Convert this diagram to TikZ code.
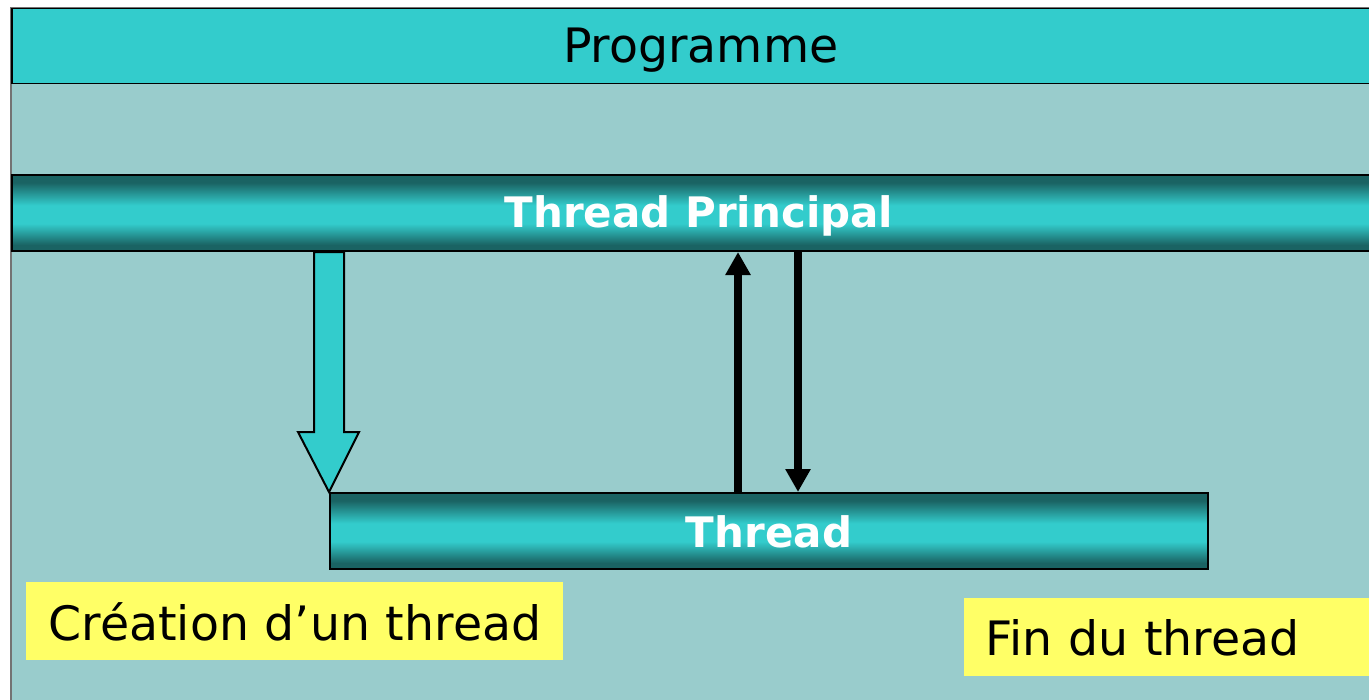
\documentclass[tikz,border=0pt]{standalone}
\usepackage{fontspec}
\setmainfont{DejaVu Sans}
\usetikzlibrary{arrows.meta,calc}
\definecolor{teal1}{HTML}{33CCCC}
\definecolor{body}{HTML}{99CCCC}
\definecolor{dk}{HTML}{1A6363}
\definecolor{ylw}{HTML}{FFFF66}
\pgfdeclareverticalshading{barshade}{100bp}{color(0bp)=(dk); color(25bp)=(dk); color(29bp)=(dk); color(43bp)=(teal1); color(55bp)=(teal1); color(70bp)=(dk); color(75bp)=(dk); color(100bp)=(dk)}
\tikzset{
  bar/.style={draw=black, line width=1pt, shading=barshade, inner sep=0pt, minimum height=38pt,
    anchor=north west},
  bartext/.style={text=white, inner sep=0pt, font=\bfseries\fontsize{21pt}{21pt}\selectfont},
  header/.style={draw=black, line width=0.75pt, fill=teal1, inner sep=0pt, minimum height=37.5pt,
    minimum width=689pt, anchor=north west},
  headtext/.style={inner sep=0pt, font=\fontsize{23.7pt}{23.7pt}\selectfont},
  label/.style={fill=ylw, inner ysep=0pt, inner xsep=10.5pt, minimum height=39pt, anchor=north west,
    font=\fontsize{23.7pt}{23.7pt}\selectfont},
  blk/.style={line width=4pt, -{Triangle[width=12pt,length=11.5pt]}},
  bigarrow/.style={draw=black, line width=1pt, fill=teal1, line join=miter}
}
\begin{document}
\begin{tikzpicture}[x=0.5pt,y=-0.5pt]
\clip (0,0) rectangle (1369,700);
\fill[white] (0,0) rectangle (1369,700);
\draw[fill=body, draw=black!55, line width=1.2pt] (11,8) rectangle (1400,720);
\node[header] (prog) at (11,8) {};
\node[headtext] (progtxt) at ($(prog.center)+(0,4)$) {Programme};
\node[bar, minimum width=689pt] (main) at (11,174) {};
\node[bartext] (maintxt) at ($(main.center)+(-2,3)$) {Thread Principal};
\node[bar, minimum width=439pt] (thr) at (329,492) {};
\node[bartext] (thrtxt) at ($(thr.center)+(0,1)$) {Thread};
% creation arrow
\coordinate (tip) at (thr.north west);
\coordinate (sl) at ($(tip)+(-15,0)$);
\coordinate (sr) at ($(tip)+(15,0)$);
\coordinate (hl) at ($(tip)+(-31,-60)$);
\coordinate (hr) at ($(tip)+(30,-60)$);
\draw[bigarrow] (tip) -- (hl) -- (sl |- hl) -- (sl |- main.south)
  -- (sr |- main.south) -- (sr |- hr) -- (hr) -- cycle;
% return arrows
\coordinate (up) at ($(thr.north west)+(409,0)$);
\coordinate (dn) at ($(thr.north west)+(469,0)$);
\draw[blk] (up) -- (up |- main.south);
\draw[blk] (dn |- main.south) -- (dn);
\node[label, text width=247.5pt, align=center] (crea) at (26,582) {Création d’un thread};
\node[label, text width=187pt, align=left] (fin) at (964,598) {Fin du thread};
\end{tikzpicture}
\end{document}
